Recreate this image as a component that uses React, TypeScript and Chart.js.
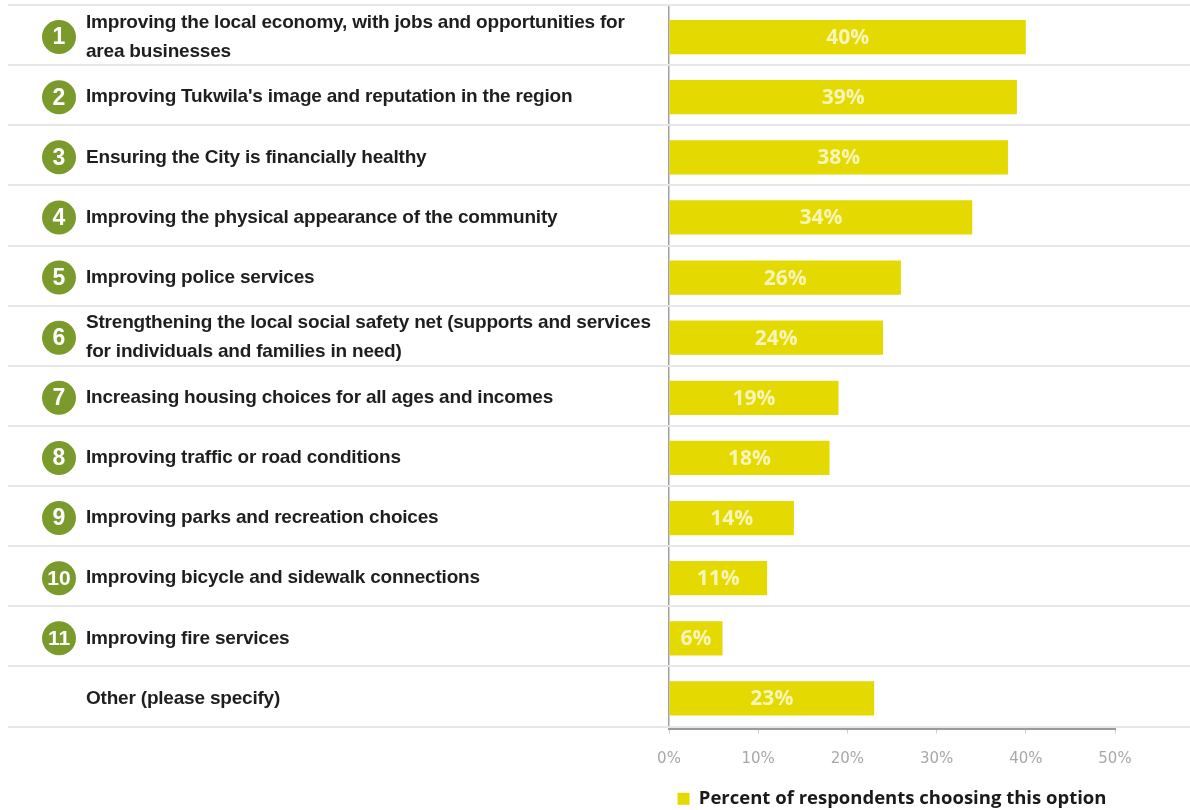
import React, { useEffect, useRef } from "react";
import { Chart, registerables } from "chart.js";

Chart.register(...registerables);

const categories: (string | string[])[] = [
  ["Improving the local economy, with jobs and opportunities for", "area businesses"],
  "Improving Tukwila's image and reputation in the region",
  "Ensuring the City is financially healthy",
  "Improving the physical appearance of the community",
  "Improving police services",
  ["Strengthening the local social safety net (supports and services", "for individuals and families in need)"],
  "Increasing housing choices for all ages and incomes",
  "Improving traffic or road conditions",
  "Improving parks and recreation choices",
  "Improving bicycle and sidewalk connections",
  "Improving fire services",
  "Other (please specify)",
];
const ranks: string[] = ["1", "2", "3", "4", "5", "6", "7", "8", "9", "10", "11", ""];
const values: number[] = [40, 39, 38, 34, 26, 24, 19, 18, 14, 11, 6, 23];
const seriesLabel = "Percent of respondents choosing this option";
const xMax = 50;
const xStep = 10;

const BAR = "#e4d900";
const GREEN = "#7b9a2c";
const LABEL_FONT = '"Liberation Sans", Arial, sans-serif';

const rowsPlugin = {
  id: "rows",
  beforeDatasetsDraw(chart: any) {
    const { ctx, scales, width } = chart;
    const y = scales.y;
    const n = categories.length;
    const step = y.getPixelForValue(1) - y.getPixelForValue(0);
    ctx.save();
    ctx.strokeStyle = "#e6e6e6";
    ctx.lineWidth = 2;
    for (let i = 0; i <= n; i++) {
      const yy = Math.round(y.getPixelForValue(i) - step / 2 - 2);
      ctx.beginPath();
      ctx.moveTo(8, yy);
      ctx.lineTo(width, yy);
      ctx.stroke();
    }
    for (let i = 0; i < n; i++) {
      const yc = y.getPixelForValue(i);
      if (ranks[i]) {
        ctx.beginPath();
        ctx.fillStyle = GREEN;
        ctx.arc(59, yc, 17, 0, Math.PI * 2);
        ctx.fill();
        ctx.fillStyle = "#ffffff";
        ctx.font = `bold ${ranks[i].length > 1 ? 21 : 23}px "Liberation Sans", Arial, sans-serif`;
        ctx.textAlign = "center";
        ctx.textBaseline = "middle";
        ctx.fillText(ranks[i], 59, yc + 1);
      }
      ctx.fillStyle = "#1e1e1e";
      ctx.font = `bold 19px ${LABEL_FONT}`;
      (ctx as any).letterSpacing = "-0.2px";
      ctx.textAlign = "left";
      ctx.textBaseline = "middle";
      const lab = categories[i];
      const lines = Array.isArray(lab) ? lab : [lab];
      const lh = 29;
      lines.forEach((t, k) => {
        ctx.fillText(t, 86, yc + (k - (lines.length - 1) / 2) * lh);
      });
      (ctx as any).letterSpacing = "0px";
    }
    ctx.restore();
  },
  afterDatasetsDraw(chart: any) {
    const { ctx } = chart;
    const meta = chart.getDatasetMeta(0);
    ctx.save();
    ctx.fillStyle = "rgba(255,255,255,0.72)";
    ctx.font = 'bold 21px "Open Sans", sans-serif';
    ctx.textAlign = "center";
    ctx.textBaseline = "middle";
    meta.data.forEach((bar: any, i: number) => {
      ctx.fillText(values[i] + "%", (bar.x + bar.base) / 2, bar.y + 1);
    });
    ctx.restore();
  },
};

export default function App() {
  const ref = useRef<HTMLCanvasElement>(null);
  useEffect(() => {
    if (!ref.current) return;
    const chart = new Chart(ref.current, {
      type: "bar",
      data: {
        labels: categories.map((c) => (Array.isArray(c) ? c.join(" ") : c)),
        datasets: [
          {
            label: seriesLabel,
            data: values,
            backgroundColor: BAR,
            borderWidth: 0,
            barPercentage: 0.57,
            categoryPercentage: 1,
          },
        ],
      },
      options: {
        indexAxis: "y",
        animation: false,
        responsive: true,
        maintainAspectRatio: false,
        layout: { padding: { left: 0, right: 75, top: 7, bottom: -8 } },
        scales: {
          x: {
            min: 0,
            max: xMax,
            ticks: {
              stepSize: xStep,
              callback: (v: any) => v + "%",
              color: "#a8a8a8",
              font: { family: '"DejaVu Sans", sans-serif', size: 15 },
              padding: 17,
            },
            grid: { display: true, drawOnChartArea: false, drawTicks: true, tickLength: 5, color: "#cfcfcf" },
            border: { display: true, color: "#9a9a9a", width: 2 },
            afterFit: (s: any) => {
              s.height = 58;
            },
          },
          y: {
            ticks: { display: false },
            grid: { display: false },
            border: { display: true, color: "#a0a0a0", width: 1.5 },
            afterFit: (s: any) => {
              s.width = 669;
            },
          },
        },
        plugins: {
          legend: {
            position: "bottom",
            fullSize: false,
            labels: {
              boxWidth: 12,
              boxHeight: 12,
              color: "#1a1a1a",
              font: { family: '"Open Sans", sans-serif', size: 18.5, weight: "bold" },
              padding: 3,
            },
          },
          tooltip: { enabled: false },
        },
      },
      plugins: [rowsPlugin],
    });
    return () => chart.destroy();
  }, []);
  return (
    <div style={{ position: "fixed", left: 0, top: 0, width: 1190, height: 810, background: "#fff" }}>
      <canvas ref={ref} />
    </div>
  );
}
